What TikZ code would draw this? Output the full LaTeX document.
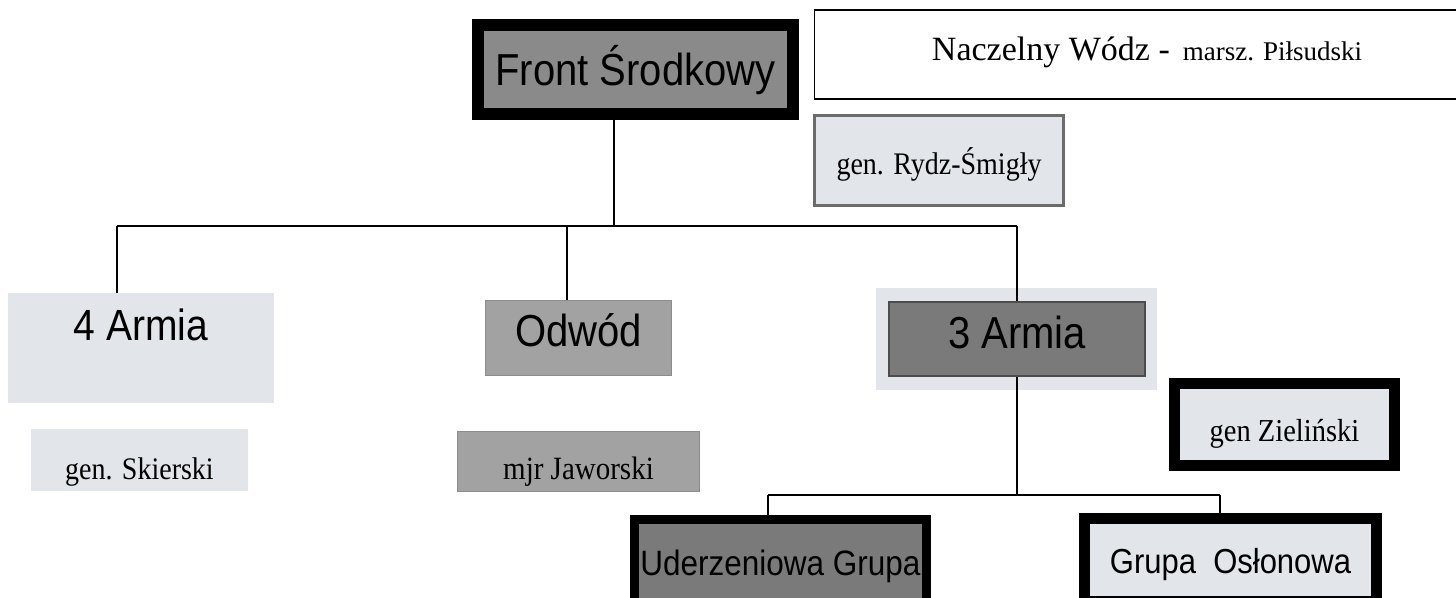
\documentclass[tikz,border=0pt]{standalone}
\usepackage{graphicx}
\usepackage{fontspec}
\setmainfont{Liberation Serif}
\newfontfamily\arialfont{Liberation Sans}

\definecolor{lightbox}{HTML}{E2E5E9}
\definecolor{midbox}{HTML}{A2A2A2}
\definecolor{darkbox}{HTML}{7A7A7A}
\definecolor{frontbox}{HTML}{8A8A8A}

\newcommand{\tall}[1]{\scalebox{1}[1.12]{#1}}

\tikzset{
	unit/.style={inner sep=0pt, anchor=base},
	sanslabel/.style={font=\arialfont\fontsize{#1}{#1}\selectfont},
	seriflabel/.style={font=\fontsize{#1}{#1}\selectfont},
	blackframe/.style={draw=black, line width=#1},
	link/.style={line width=1.6pt}
}

\begin{document}
\begin{tikzpicture}[x=1pt, y=-1pt]

	\useasboundingbox (0,0) rectangle (1456,597);

	% top
	\node (front) [unit, blackframe=12pt, fill=frontbox, sanslabel=40, minimum width=315pt, text height=60pt, text depth=29pt] at (635.5,85) {\tall{Front Środkowy}};

	\node (naczelny) [unit, blackframe=1.5pt, fill=white, minimum width=665pt, text height=50pt, text depth=39pt] at (1147,60)
		{{\fontsize{34}{34}\selectfont Naczelny Wódz -}\hspace{13pt}{\fontsize{27}{27}\selectfont marsz. Piłsudski}};

	\node (rydz) [unit, draw=black!58, line width=3pt, fill=lightbox, seriflabel=28, minimum width=249pt, text height=58.5pt, text depth=31.5pt] at (939,174) {\tall{gen. Rydz-Śmigły}};

	% armie
	\node (armia4) [unit, fill=lightbox, sanslabel=39, minimum width=266pt, text height=47pt, text depth=63pt] at (141,340) {\tall{4 Armia}};
	\node (skierski) [unit, fill=lightbox, seriflabel=28, minimum width=217pt, text height=50pt, text depth=12pt] at (139.5,479) {\tall{gen. Skierski}};

	\node (odwod) [unit, draw=black!45, line width=1pt, fill=midbox, sanslabel=40, minimum width=186pt, text height=45.5pt, text depth=29.5pt] at (578.5,346) {\tall{Odwód}};
	\node (jaworski) [unit, draw=black!45, line width=1pt, fill=midbox, seriflabel=29, minimum width=242pt, text height=47.5pt, text depth=12.5pt] at (578.5,479) {\tall{mjr Jaworski}};

	\fill [lightbox] (876,288) rectangle (1157,390);
	\node (armia3) [unit, draw=black!70, line width=2pt, fill=darkbox, sanslabel=40, minimum width=256pt, text height=46pt, text depth=28pt] at (1017,348) {\tall{3 Armia}};

	\node (zielinski) [unit, blackframe=11pt, fill=lightbox, seriflabel=28.5, minimum width=220pt, text height=57.5pt, text depth=24.5pt] at (1284.5,441) {\tall{gen Zieliński}};

	% grupy
	\node (uderz) [unit, blackframe=9pt, fill=darkbox, sanslabel=31.5, minimum width=292pt, text height=55.5pt, text depth=27pt] at (780.5,575) {\tall{Uderzeniowa Grupa}};
	\node (grupa) [unit, blackframe=11pt, fill=lightbox, sanslabel=31, minimum width=292pt, text height=54.5pt, text depth=28pt] at (1230.5,573) {\tall{Grupa~~Osłonowa}};

	\coordinate (busL) at (117,226);
	\coordinate (busM) at (567,226);
	\coordinate (busF) at (614,226);
	\coordinate (busR) at (1017,226);
	\coordinate (sub) at (1017,495);
	\coordinate (subL) at (768,495);
	\coordinate (subR) at (1220,495);

	\draw [link] (front.south -| busF) -- (busF);
	\draw [link] (busL) -- (busR);
	\draw [link] (busL) -- (busL |- armia4.north);
	\draw [link] (busM) -- (busM |- odwod.north);
	\draw [link] (busR) -- (armia3.north);

	\draw [link] (armia3.south) -- (sub);
	\draw [link] (subL) -- (subR);
	\draw [link] (subL) -- (subL |- uderz.north);
	\draw [link] (subR) -- (subR |- grupa.north);

\end{tikzpicture}
\end{document}
